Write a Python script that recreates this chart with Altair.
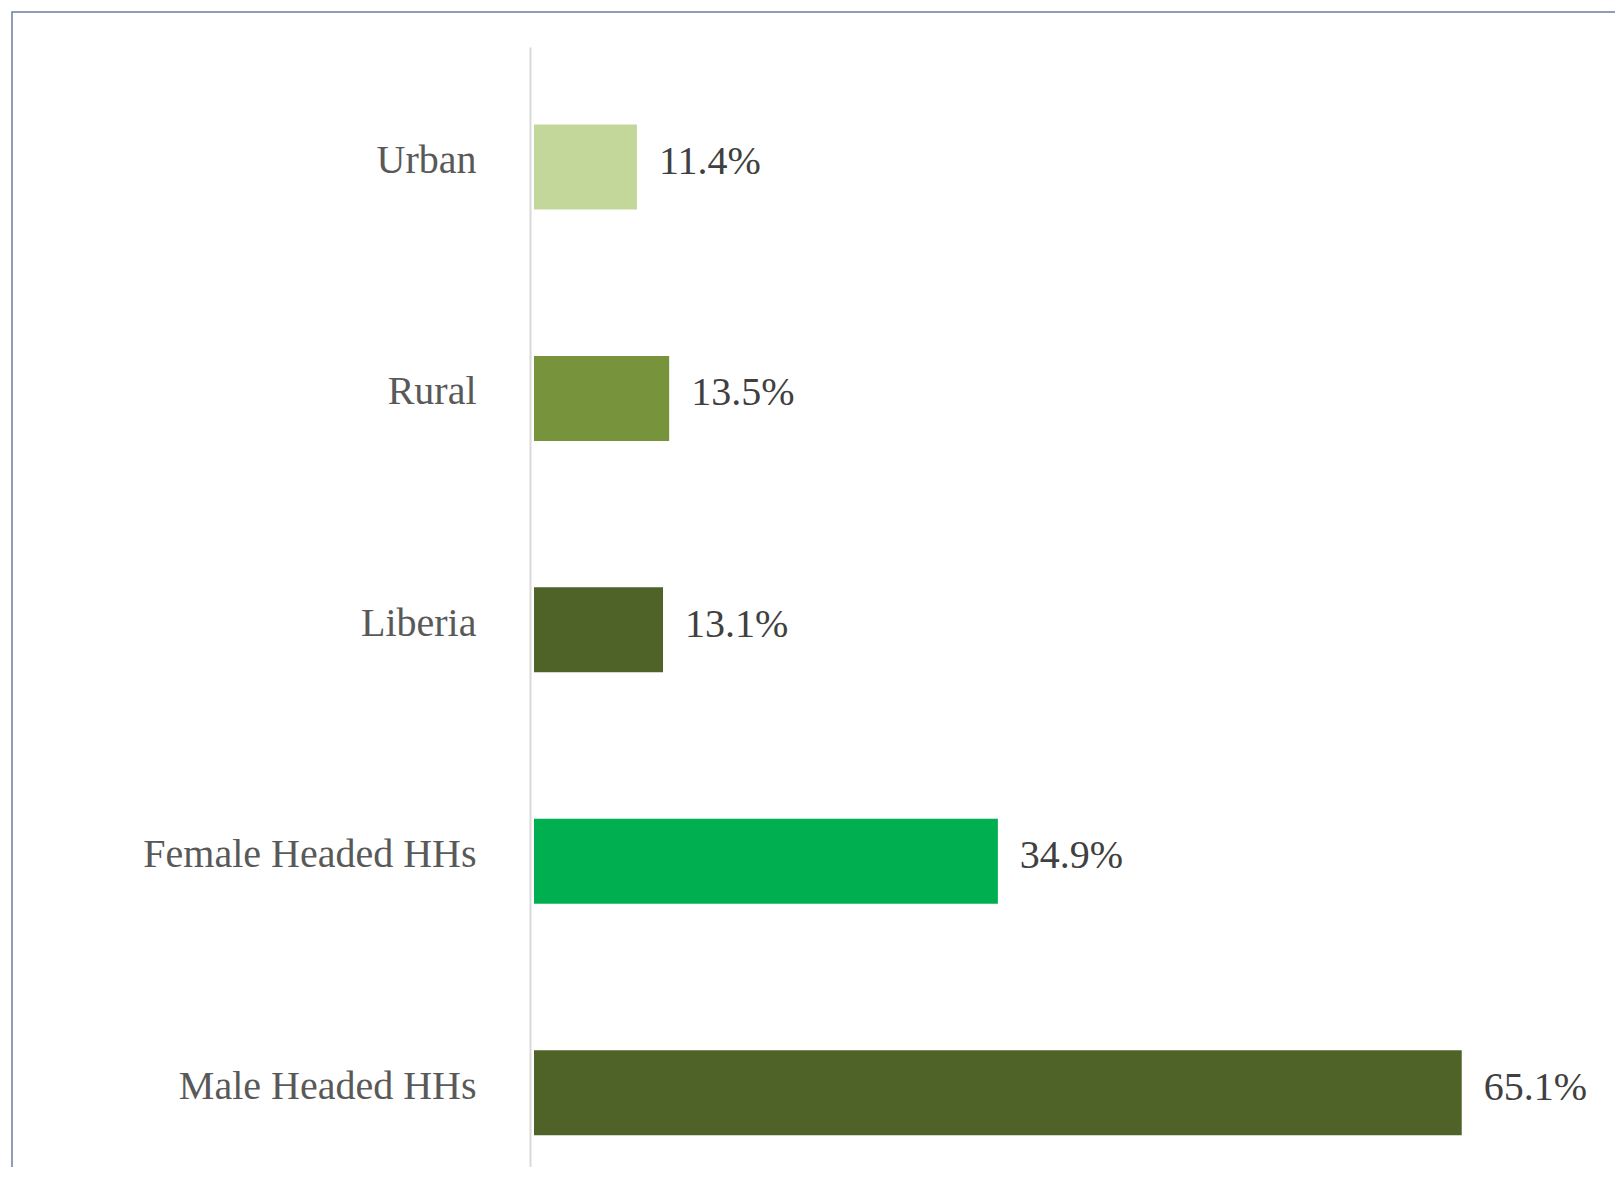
import altair as alt
import pandas as pd

categories = ["Urban", "Rural", "Liberia", "Female Headed HHs", "Male Headed HHs"]
values = [11.4, 13.5, 13.1, 34.9, 65.1]
labels = ["11.4%", "13.5%", "13.1%", "34.9%", "65.1%"]
colors = ["#c4d79b", "#77933c", "#4f6228", "#00b050", "#4f6228"]

df = pd.DataFrame({"cat": categories, "val": values, "lab": labels, "col": colors})

W, H = 1003, 1120
FONT = "Liberation Serif"

y_enc = alt.Y(
    "cat:N",
    sort=categories,
    title=None,
    scale=alt.Scale(paddingInner=0.6327, paddingOuter=0.2364, align=0.709),
    axis=alt.Axis(
        domain=True, domainColor="#d9d9d9", domainWidth=2, offset=4,
        ticks=False, tickSize=0, labelPadding=54, labelFont=FONT,
        labelFontSize=40, labelColor="#595959", labelOffset=-6,
        labelLimit=600, grid=False,
    ),
)
x_scale = alt.Scale(domain=[4.7, 70], nice=False, zero=False, clamp=True)

border = alt.Chart(pd.DataFrame({"a": [0]})).mark_rect(
    fill=None, stroke="#6d7e9a", strokeWidth=1.5
).encode(
    x=alt.value(-522), x2=alt.value(1400), y=alt.value(-35), y2=alt.value(1400)
)

bars = alt.Chart(df).mark_bar().encode(
    x=alt.X("val:Q", scale=x_scale, axis=None),
    y=y_enc,
    color=alt.Color("col:N", scale=None, legend=None),
)

text = alt.Chart(df).mark_text(
    align="left", baseline="middle", dx=22, dy=-5, font=FONT, fontSize=40, color="#404040"
).encode(
    x=alt.X("val:Q", scale=x_scale, axis=None),
    y=alt.Y("cat:N", sort=categories),
    text="lab:N",
)

chart = alt.layer(border, bars, text).properties(
    width=W, height=H,
    autosize=alt.AutoSizeParams(type="none"),
    padding={"left": 526, "top": 39, "right": 78, "bottom": 0},
).configure(background="white", view=alt.ViewConfig(stroke=None))

chart.save("out.html", embed_options={"renderer": "svg", "actions": False})
